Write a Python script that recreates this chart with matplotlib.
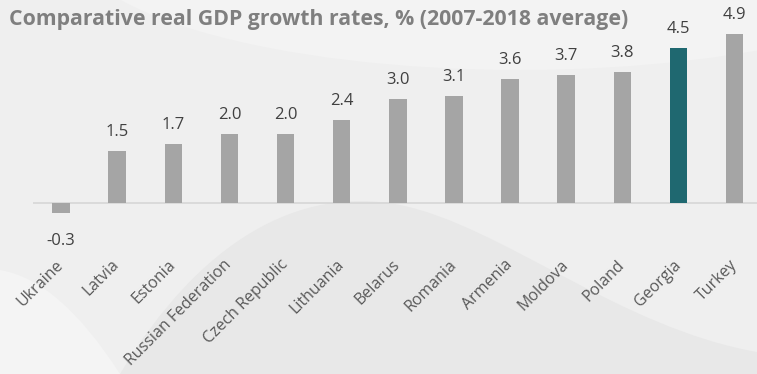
import numpy as np
import matplotlib.pyplot as plt
from matplotlib.patches import Ellipse, PathPatch
from matplotlib.path import Path

# данные
countries = ["Ukraine", "Latvia", "Estonia", "Russian Federation", "Czech Republic",
             "Lithuania", "Belarus", "Romania", "Armenia", "Moldova", "Poland",
             "Georgia", "Turkey"]
growth = [-0.3, 1.5, 1.7, 2.0, 2.0, 2.4, 3.0, 3.1, 3.6, 3.7, 3.8, 4.5, 4.9]
highlight = "Georgia"

plt.rcParams['font.family'] = ['Open Sans', 'DejaVu Sans']

fig = plt.figure(figsize=(7.57, 3.74), dpi=100)
fig.patch.set_facecolor("#efefef")

# фон: светлые и тёмные дуги
bg = fig.add_axes([0, 0, 1, 1], zorder=0)
bg.set_xlim(0, 757)
bg.set_ylim(374, 0)
bg.axis("off")
bg.add_patch(Ellipse((520, -60), 900, 260, color="#f3f3f3", lw=0))
dark = Path([(120, 374), (200, 240), (300, 185), (400, 205),
             (500, 225), (620, 328), (757, 352), (757, 374), (120, 374)],
            [Path.MOVETO, Path.CURVE4, Path.CURVE4, Path.CURVE4,
             Path.CURVE4, Path.CURVE4, Path.CURVE4, Path.LINETO, Path.LINETO])
bg.add_patch(PathPatch(dark, color="#e8e8e8", lw=0))
light = Path([(0, 270), (60, 280), (120, 374), (0, 374), (0, 270)],
             [Path.MOVETO, Path.CURVE3, Path.CURVE3, Path.LINETO, Path.LINETO])
bg.add_patch(PathPatch(light, color="#f4f4f4", lw=0))

# основная ось
H = 374
ax = fig.add_axes([33 / 757, (H - 232) / H, 1 - 33 / 757, 232 / H], zorder=1)
ax.patch.set_alpha(0)
x = np.arange(len(countries))
colors = ["#1f6870" if c == highlight else "#a5a5a5" for c in countries]
ax.bar(x, growth, width=0.31, color=colors, zorder=2)
ax.axhline(0, color="#d6d6d6", lw=1.2, zorder=1)

for xi, v in zip(x, growth):
    if v >= 0:
        ax.annotate(f"{v:.1f}", (xi, v), xytext=(0, 8), textcoords="offset points",
                    ha="center", va="bottom", fontsize=12, color="#404040")
    else:
        ax.annotate(f"{v:.1f}", (xi, v), xytext=(0, -14), textcoords="offset points",
                    ha="center", va="top", fontsize=12, color="#404040")

ax.set_xlim(-0.5, 12.4)
ax.set_ylim(-0.84, 5.88)
ax.set_xticks(x)
ax.set_xticklabels(countries, rotation=45, ha="right", va="center",
                   rotation_mode="anchor", fontsize=11.5, color="#595959")
ax.tick_params(axis="x", length=0, pad=22)
ax.set_yticks([])
for s in ax.spines.values():
    s.set_visible(False)

fig.text(9 / 757, 1 - 20 / H, "Comparative real GDP growth rates, % (2007-2018 average)",
         fontsize=15.3, fontweight="bold", color="#7f7f7f", va="center", ha="left")

fig.savefig("out.png", dpi=100, facecolor=fig.get_facecolor())
